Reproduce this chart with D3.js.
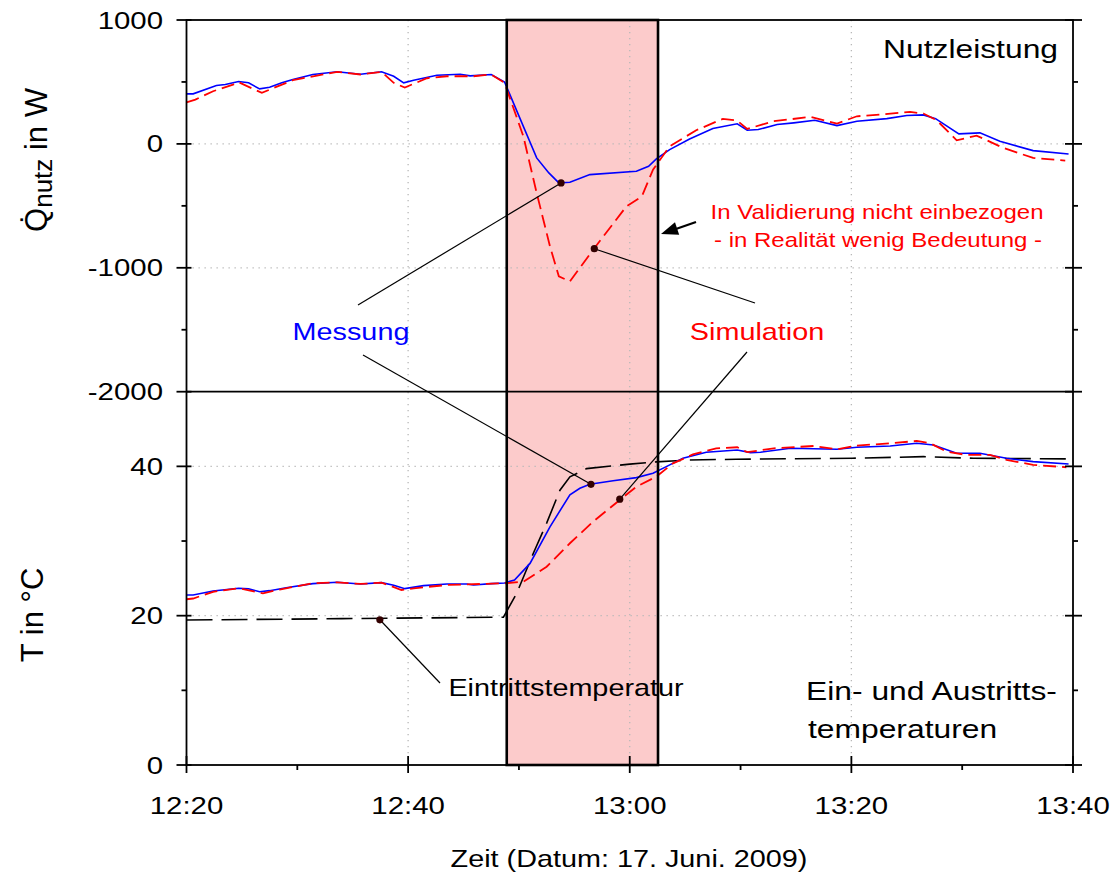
<!DOCTYPE html>
<html><head><meta charset="utf-8">
<script src="https://cdn.jsdelivr.net/npm/d3@7"></script>
<style>body{margin:0;background:#fff}svg{display:block}text{font-family:"Liberation Sans",Arial,sans-serif}</style>
</head><body>
<svg id="c" width="1120" height="878"></svg>
<script>
// ---- data (time in minutes after 12:20) ----
const timeTicks = [0, 20, 40, 60, 80];
const timeLabels = ["12:20", "12:40", "13:00", "13:20", "13:40"];
const timeMinor = [10, 30, 50, 70];
const qTicks = [1000, 0, -1000, -2000];
const qMinor = [500, -500, -1500];
const tTicks = [0, 20, 40];
const tMinor = [10, 30];
const validationWindow = [28.9, 42.55];

// Nutzleistung, Messung [min, W]
const qMessung = [[0,404],[0.6,404],[2.7,471],[3.5,479],[4.7,503],[5.6,493],[6.6,444],[7.5,457],[8.6,493],[9.6,519],[11.4,560],[13.6,582],[15.7,562],[17.6,582],[18.7,546],[19.6,493],[20.5,514],[22.6,554],[24.7,562],[25.6,549],[27.5,560],[28.7,500],[31.6,-113],[32.7,-234],[33.6,-315],[34.6,-310],[36.4,-248],[40.6,-221],[41.7,-181],[42.4,-121],[43.6,-46],[45.4,40],[47.5,124],[49.7,162],[50.6,110],[51.6,116],[53.3,156],[54.8,170],[56.7,191],[58.7,148],[60.5,183],[63.2,204],[65,229],[66.5,234],[67.6,204],[69.7,81],[71.6,89],[73.4,21],[76.4,-54],[79.6,-81]];
// Nutzleistung, Simulation [min, W]
const qSimulation = [[0,336],[0.8,358],[2.4,425],[4.2,479],[4.7,498],[6.8,412],[8.1,460],[9.6,514],[13.6,582],[15.7,560],[17.6,582],[18.7,493],[19.7,455],[21.7,530],[23.5,546],[25.9,546],[27.5,560],[28.7,493],[30.4,61],[31.6,-396],[32.8,-827],[33.6,-1069],[34.6,-1110],[36.7,-854],[39.7,-504],[41.1,-423],[42.1,-208],[43.6,-19],[46,110],[48.4,202],[49.7,188],[50.6,121],[53,183],[56.3,218],[58.7,164],[60.5,223],[62.6,237],[65.3,258],[66.5,245],[67.7,191],[69.5,29],[71.3,67],[73.7,-32],[76.4,-113],[79.3,-135]];
// Austrittstemperatur, Messung [min, °C]
const tMessung = [[0,22.77],[0.6,22.77],[2.4,23.3],[4.7,23.67],[5.6,23.6],[6.6,23.2],[7.5,23.35],[9,23.75],[11.4,24.29],[13.6,24.47],[15.7,24.25],[17.6,24.42],[18.7,24.07],[19.7,23.62],[21.4,24.02],[23.5,24.25],[25.3,24.25],[25.9,24.11],[27.5,24.29],[28.7,24.38],[29.6,24.78],[31,27.0],[32.8,31.9],[34.6,36.2],[35.5,37.07],[36.4,37.6],[38.5,38.08],[40.6,38.49],[42.1,39.07],[43.3,39.96],[44.8,41.1],[46.9,41.89],[49.7,42.2],[50.9,41.84],[51.8,41.9],[54.5,42.42],[58.7,42.29],[60.5,42.56],[63.5,42.73],[65.9,43.09],[67.4,42.87],[69.5,41.75],[71.6,41.75],[74,41.08],[76.4,40.63],[79.6,40.32]];
// Austrittstemperatur, Simulation [min, °C]
const tSimulation = [[0,22.2],[0.6,22.3],[2.4,23.2],[4.7,23.67],[6.9,23.0],[8.4,23.5],[11.4,24.35],[13.6,24.47],[15.7,24.25],[17.6,24.42],[19.4,23.44],[20.5,23.67],[23.5,24.11],[28.7,24.34],[30.4,24.55],[32.5,26.56],[34.6,29.7],[36.7,32.6],[39.1,35.5],[40.6,37.28],[42.4,38.62],[43.9,40.4],[45.7,41.6],[47.8,42.4],[49.7,42.56],[50.6,41.9],[53,42.42],[56.6,42.73],[58.7,42.29],[60.5,42.78],[63.5,43.09],[65.9,43.4],[67.1,43.09],[68.6,41.97],[70.4,41.53],[72.5,41.53],[74,40.86],[76.4,40.2],[79.4,39.88]];
// Eintrittstemperatur [min, °C]
const tEintritt = [[0,19.42],[14,19.6],[28.6,19.8],[29.8,23.0],[31.3,28.36],[32.5,32.4],[33.7,36.8],[34.6,38.6],[36.1,39.7],[40,40.3],[42.4,40.6],[45.4,40.86],[49.6,40.95],[60.1,41.09],[66.5,41.3],[71,41.09],[79.5,41.0]];

// ---- layout ----
const SX = 1.2;
const svg = d3.select("#c");
const x = d3.scaleLinear().domain([0, 80]).range([186.5, 1073]);
const yQ = d3.scaleLinear().domain([-2000, 1000]).range([391.7, 20]);
const yT = d3.scaleLinear().domain([0, 50]).range([765, 391.7]);
const pTop = 20, pMid = 391.7, pBot = 765, L = x(0), R = x(80);

function txt(px, py, s, size, anchor, color) {
  return svg.append("text")
    .attr("transform", `translate(${px},${py}) scale(${SX},1)`)
    .attr("text-anchor", anchor || "start")
    .attr("font-size", size)
    .attr("fill", color || "#000")
    .text(s);
}

// validation window fill
svg.append("rect")
  .attr("x", x(validationWindow[0])).attr("y", pTop)
  .attr("width", x(validationWindow[1]) - x(validationWindow[0]))
  .attr("height", pBot - pTop)
  .attr("fill", "#fccbcb");

// grid
const grid = svg.append("g").attr("stroke", "#b8b8b8").attr("stroke-width", 1.3).attr("stroke-dasharray", "1.3,4.7");
[20, 40, 60].forEach(t => grid.append("line").attr("x1", x(t)).attr("x2", x(t)).attr("y1", pTop).attr("y2", pBot));
[0, -1000].forEach(v => grid.append("line").attr("x1", L).attr("x2", R).attr("y1", yQ(v)).attr("y2", yQ(v)));
[20, 40].forEach(v => grid.append("line").attr("x1", L).attr("x2", R).attr("y1", yT(v)).attr("y2", yT(v)));

// lines
const lineQ = d3.line().x(d => x(d[0])).y(d => yQ(d[1]));
const lineT = d3.line().x(d => x(d[0])).y(d => yT(d[1]));
svg.append("path").attr("d", lineT(tEintritt)).attr("fill", "none").attr("stroke", "#000").attr("stroke-width", 1.6).attr("stroke-dasharray", "26,9");
svg.append("path").attr("d", lineQ(qMessung)).attr("fill", "none").attr("stroke", "#0000ff").attr("stroke-width", 1.6);
svg.append("path").attr("d", lineT(tMessung)).attr("fill", "none").attr("stroke", "#0000ff").attr("stroke-width", 1.6);
svg.append("path").attr("d", lineQ(qSimulation)).attr("fill", "none").attr("stroke", "#ff0000").attr("stroke-width", 1.8).attr("stroke-dasharray", "13,6");
svg.append("path").attr("d", lineT(tSimulation)).attr("fill", "none").attr("stroke", "#ff0000").attr("stroke-width", 1.8).attr("stroke-dasharray", "13,6");

// validation window border
svg.append("rect")
  .attr("x", x(validationWindow[0])).attr("y", pTop)
  .attr("width", x(validationWindow[1]) - x(validationWindow[0]))
  .attr("height", pBot - pTop)
  .attr("fill", "none").attr("stroke", "#000").attr("stroke-width", 2.6);

// frame
const fr = svg.append("g").attr("stroke", "#000").attr("stroke-width", 1.8);
fr.append("rect").attr("x", L).attr("y", pTop).attr("width", R - L).attr("height", pBot - pTop).attr("fill", "none");
fr.append("line").attr("x1", L).attr("x2", R).attr("y1", pMid).attr("y2", pMid);

// ticks
const tk = svg.append("g").attr("stroke", "#000").attr("stroke-width", 1.8);
function yMajor(py) {
  tk.append("line").attr("x1", L - 10).attr("x2", L + 5).attr("y1", py).attr("y2", py);
  tk.append("line").attr("x1", R - 8).attr("x2", R + 9).attr("y1", py).attr("y2", py);
}
function yMin(py) {
  tk.append("line").attr("x1", L - 5).attr("x2", L).attr("y1", py).attr("y2", py);
  tk.append("line").attr("x1", R).attr("x2", R + 5).attr("y1", py).attr("y2", py);
}
qTicks.forEach(v => yMajor(yQ(v)));
qMinor.forEach(v => yMin(yQ(v)));
tTicks.forEach(v => yMajor(yT(v)));
tMinor.forEach(v => yMin(yT(v)));
timeTicks.forEach(t => tk.append("line").attr("x1", x(t)).attr("x2", x(t)).attr("y1", pBot - 9).attr("y2", pBot + 8));
timeMinor.forEach(t => tk.append("line").attr("x1", x(t)).attr("x2", x(t)).attr("y1", pBot).attr("y2", pBot + 5));

// tick labels
qTicks.forEach(v => txt(163, yQ(v) + 8.5, String(v), 24.5, "end"));
tTicks.forEach(v => txt(163, yT(v) + 8.5, String(v), 24.5, "end"));
timeTicks.forEach((t, i) => txt(x(t), 814, timeLabels[i], 24.5, "middle"));

// axis titles
txt(629, 867, "Zeit (Datum: 17. Juni. 2009)", 24, "middle");
const qt = svg.append("text")
  .attr("transform", `translate(47,160) rotate(-90)`)
  .attr("text-anchor", "middle").attr("font-size", 31);
qt.append("tspan").text("Q\u0307");
qt.append("tspan").attr("font-size", 26).attr("dy", 5).text("nutz");
qt.append("tspan").attr("dy", -5).text(" in W");
svg.append("text")
  .attr("transform", `translate(43,615) rotate(-90)`)
  .attr("text-anchor", "middle").attr("font-size", 31).text("T in °C");

// panel labels
txt(1058, 58, "Nutzleistung", 26.5, "end");
txt(806, 700, "Ein- und Austritts-", 26.5, "start");
txt(808, 738, "temperaturen", 26.5, "start");

// annotations
const an = svg.append("g").attr("stroke", "#000").attr("stroke-width", 1.2);
const dots = [
  {p: [x(33.8), yQ(-315)], from: [358, 305]},
  {p: [x(36.5), yT(37.6)], from: [363, 355]},
  {p: [x(36.8), yQ(-846)], from: [755, 303]},
  {p: [x(39.1), yT(35.6)], from: [747, 352]},
  {p: [x(17.45), yT(19.45)], from: [440, 683]}
];
dots.forEach(d => an.append("line").attr("x1", d.from[0]).attr("y1", d.from[1]).attr("x2", d.p[0]).attr("y2", d.p[1]));
dots.forEach(d => svg.append("circle").attr("cx", d.p[0]).attr("cy", d.p[1]).attr("r", 3.6).attr("fill", "#300"));

txt(351, 340, "Messung", 24, "middle", "#0000ff");
txt(757, 340, "Simulation", 24, "middle", "#ff0000");
txt(566, 696, "Eintrittstemperatur", 24, "middle");
txt(877, 219, "In Validierung nicht einbezogen", 20, "middle", "#ff0000");
txt(878, 247, "- in Realität wenig Bedeutung -", 20, "middle", "#ff0000");

// arrow
const ax0 = 696, ay0 = 222, ax1 = 661, ay1 = 234;
an.append("line").attr("x1", ax0).attr("y1", ay0).attr("x2", ax1 + 12).attr("y2", ay1 - 4).attr("stroke-width", 2.2);
const ang = Math.atan2(ay1 - ay0, ax1 - ax0);
const hl = 17, hw = 6.5;
const bx = ax1 - hl * Math.cos(ang), by = ay1 - hl * Math.sin(ang);
svg.append("path")
  .attr("d", `M${ax1},${ay1} L${bx - hw * Math.sin(ang)},${by + hw * Math.cos(ang)} L${bx + hw * Math.sin(ang)},${by - hw * Math.cos(ang)} Z`)
  .attr("fill", "#000");
</script>
</body></html>
